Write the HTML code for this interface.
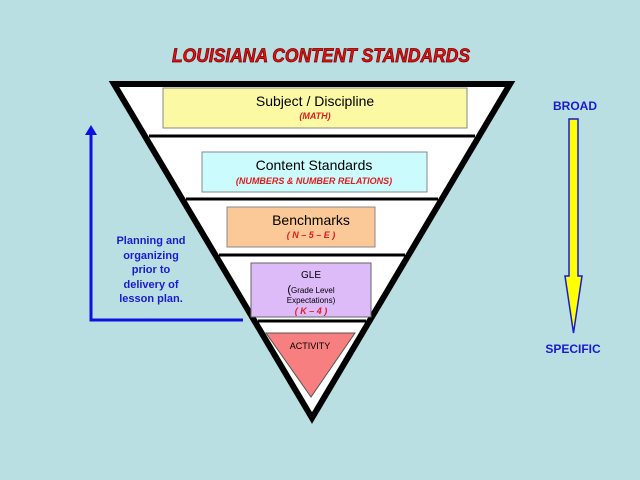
<!DOCTYPE html>
<html><head><meta charset="utf-8"><style>
html,body{margin:0;padding:0;background:#b9dfe3;}
body{width:640px;height:480px;overflow:hidden;}
svg{display:block}
text{font-family:"Liberation Sans",Arial,sans-serif}
</style></head><body>
<svg width="640" height="480" viewBox="0 0 640 480">
<rect width="640" height="480" fill="#b9dfe3"/>
<text x="172" y="62" textLength="298" lengthAdjust="spacingAndGlyphs" font-size="19" font-weight="bold" font-style="italic" fill="#e41010" stroke="#600" stroke-width="0.7" font-family="Liberation Serif">LOUISIANA CONTENT STANDARDS</text>
<polygon points="114,84 510,84 312,418" fill="#fff" stroke="#000" stroke-width="6" stroke-linejoin="miter"/>
<g stroke="#000" stroke-width="3">
<line x1="149" y1="136" x2="475" y2="136"/>
<line x1="186" y1="199" x2="438" y2="199"/>
<line x1="219" y1="255" x2="405" y2="255"/>
<line x1="258" y1="321" x2="366" y2="321"/>
</g>
<rect x="163" y="88" width="304" height="40" fill="#fbf9a4" stroke="#888" stroke-width="1"/>
<text x="315" y="106" text-anchor="middle" font-size="14">Subject / Discipline</text>
<text x="315" y="119" text-anchor="middle" font-size="9" font-weight="bold" font-style="italic" fill="#e21b1b">(MATH)</text>
<rect x="202" y="152" width="225" height="40" fill="#ccfbfd" stroke="#888" stroke-width="1"/>
<text x="314" y="170" text-anchor="middle" font-size="14">Content Standards</text>
<text x="314" y="184" text-anchor="middle" font-size="9" font-weight="bold" font-style="italic" fill="#e21b1b">(NUMBERS &amp; NUMBER RELATIONS)</text>
<rect x="227" y="207" width="148" height="40" fill="#fbc898" stroke="#888" stroke-width="1"/>
<text x="311" y="225" text-anchor="middle" font-size="14">Benchmarks</text>
<text x="311" y="238" text-anchor="middle" font-size="9" font-weight="bold" font-style="italic" fill="#e21b1b">( N – 5 – E )</text>
<rect x="251" y="263" width="120" height="54" fill="#dcbbf8" stroke="#666" stroke-width="1"/>
<text x="311" y="278" text-anchor="middle" font-size="10">GLE</text>
<text x="311" y="293" text-anchor="middle" font-size="8"><tspan font-size="11">(</tspan>Grade Level</text>
<text x="311" y="303" text-anchor="middle" font-size="8">Expectations)</text>
<text x="311" y="314" text-anchor="middle" font-size="9" font-weight="bold" font-style="italic" fill="#e21b1b">( K – 4 )</text>
<polygon points="266,333 355,333 311,397" fill="#f77f7f" stroke="#555" stroke-width="1"/>
<text x="310" y="349" text-anchor="middle" font-size="9">ACTIVITY</text>
<polyline points="91,133 91,320 243,320" fill="none" stroke="#1010e0" stroke-width="3"/>
<polygon points="91,125 85,135 97,135" fill="#1010e0"/>
<g font-size="11" font-weight="bold" fill="#1a1ad0" text-anchor="middle">
<text x="151" y="244">Planning and</text>
<text x="151" y="259">organizing</text>
<text x="151" y="273">prior to</text>
<text x="151" y="288">delivery of</text>
<text x="151" y="302">lesson plan.</text>
</g>
<polygon points="569,119 578,119 578,276 582,276 573.5,333 565,276 569,276" fill="#ffff00" stroke="#1a1ad0" stroke-width="1.5"/>
<text x="575" y="110" text-anchor="middle" font-size="12" font-weight="bold" fill="#1a1ad0">BROAD</text>
<text x="573" y="353" text-anchor="middle" font-size="12" font-weight="bold" fill="#1a1ad0">SPECIFIC</text>
</svg>
</body></html>
